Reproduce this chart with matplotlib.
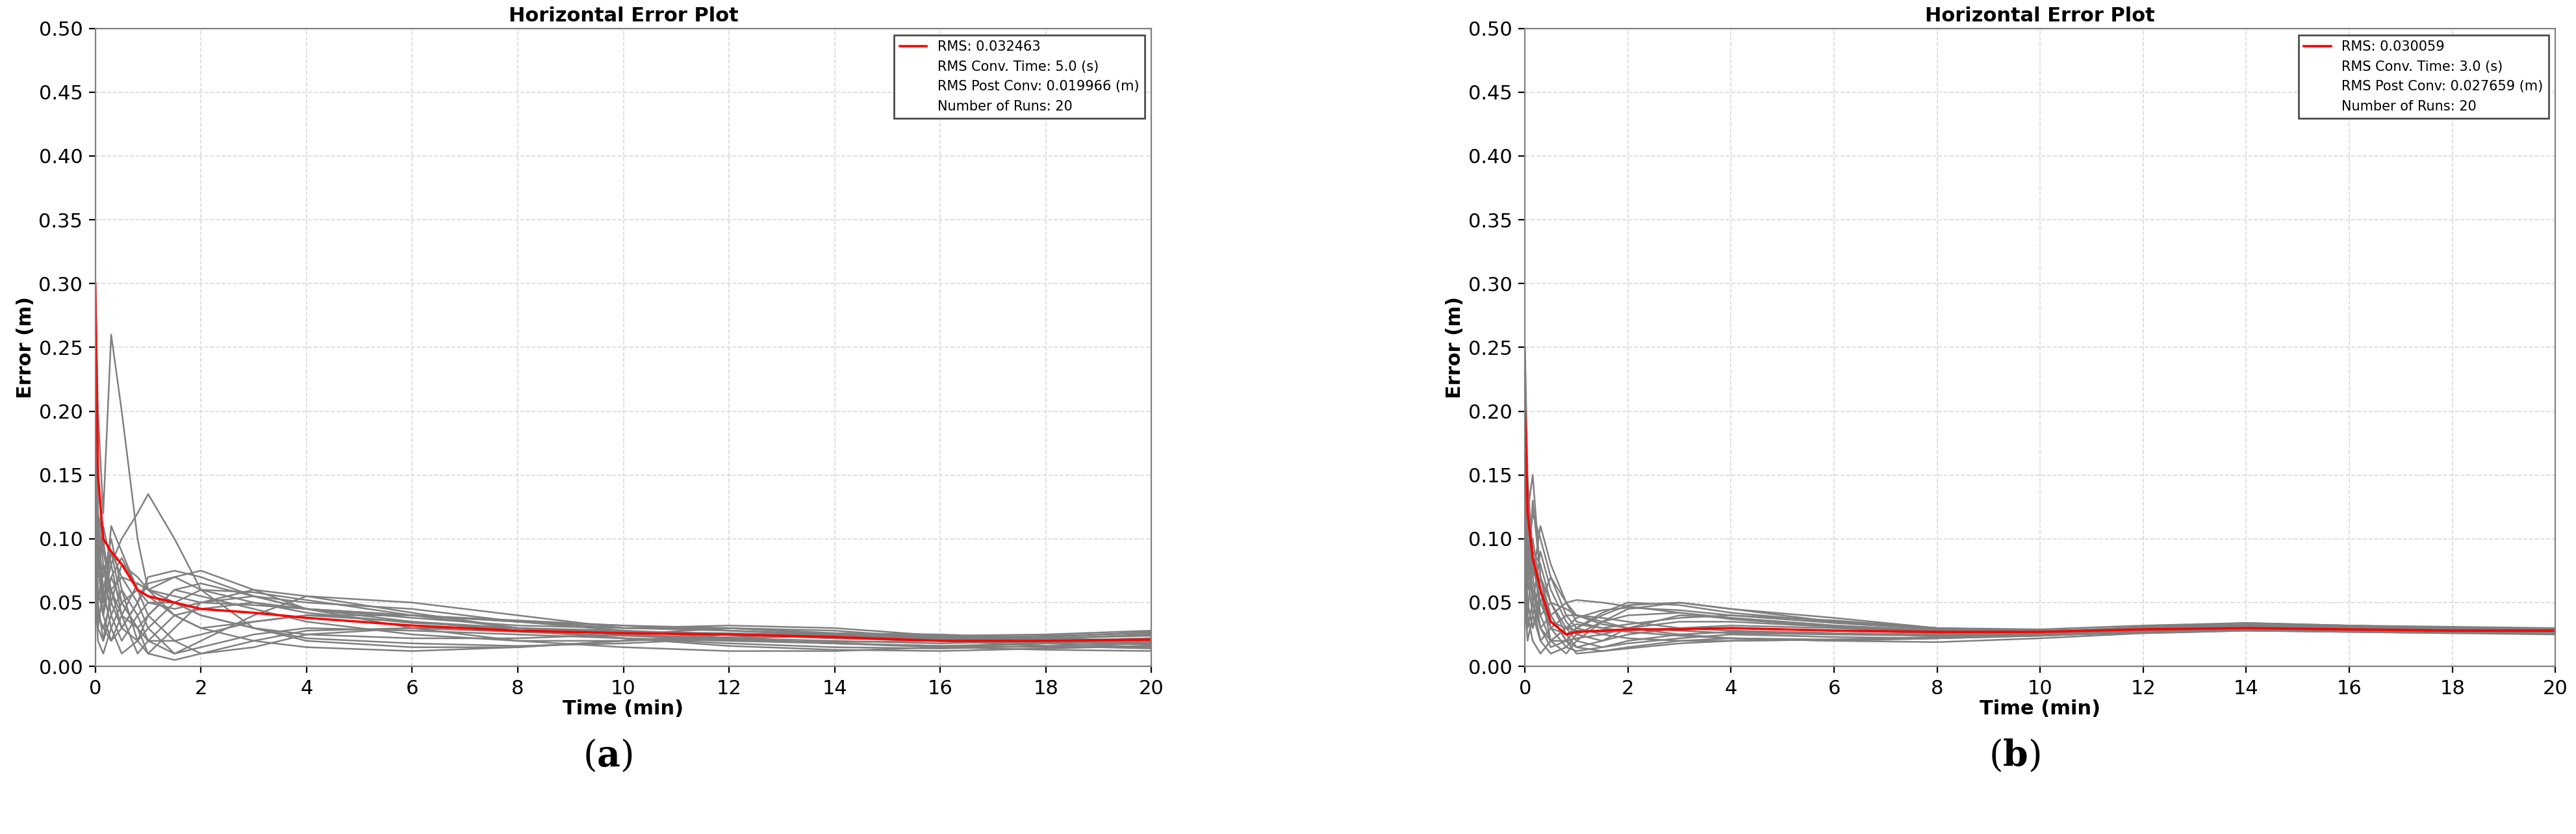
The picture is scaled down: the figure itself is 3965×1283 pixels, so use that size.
import matplotlib.pyplot as plt

plt.rcParams["mathtext.fontset"] = "dejavuserif"

# ── Data ─────────────────────────────────────────────────────────────────────
t_min = [0, 0.05, 0.15, 0.3, 0.5, 0.8, 1, 1.5, 2, 3, 4, 6, 8, 10, 12, 14, 16, 18, 20]

runs_a = [
    [0.30, 0.20, 0.12, 0.26, 0.20, 0.10, 0.06, 0.04, 0.030, 0.035, 0.040, 0.035, 0.030, 0.025, 0.022, 0.020, 0.018, 0.020, 0.022],
    [0.15, 0.10, 0.05, 0.08, 0.10, 0.12, 0.135, 0.10, 0.060, 0.030, 0.020, 0.015, 0.015, 0.020, 0.025, 0.022, 0.020, 0.018, 0.015],
    [0.22, 0.08, 0.04, 0.11, 0.09, 0.06, 0.05, 0.045, 0.050, 0.055, 0.050, 0.045, 0.035, 0.030, 0.028, 0.025, 0.022, 0.024, 0.026],
    [0.12, 0.05, 0.02, 0.06, 0.07, 0.05, 0.03, 0.01, 0.020, 0.040, 0.055, 0.050, 0.040, 0.030, 0.030, 0.025, 0.020, 0.022, 0.025],
    [0.18, 0.09, 0.07, 0.10, 0.06, 0.02, 0.01, 0.03, 0.050, 0.060, 0.055, 0.042, 0.030, 0.025, 0.020, 0.018, 0.016, 0.018, 0.020],
    [0.10, 0.04, 0.03, 0.05, 0.08, 0.07, 0.06, 0.07, 0.075, 0.060, 0.045, 0.035, 0.028, 0.022, 0.018, 0.015, 0.014, 0.016, 0.018],
    [0.08, 0.03, 0.06, 0.09, 0.05, 0.03, 0.04, 0.06, 0.065, 0.055, 0.045, 0.030, 0.020, 0.015, 0.012, 0.012, 0.015, 0.018, 0.020],
    [0.25, 0.12, 0.08, 0.04, 0.02, 0.04, 0.05, 0.05, 0.040, 0.030, 0.025, 0.022, 0.022, 0.025, 0.030, 0.028, 0.022, 0.020, 0.022],
    [0.14, 0.07, 0.11, 0.08, 0.04, 0.01, 0.02, 0.04, 0.045, 0.050, 0.045, 0.040, 0.035, 0.032, 0.030, 0.026, 0.020, 0.016, 0.014],
    [0.06, 0.02, 0.01, 0.03, 0.05, 0.06, 0.055, 0.04, 0.030, 0.020, 0.015, 0.012, 0.015, 0.020, 0.025, 0.025, 0.024, 0.025, 0.028],
    [0.20, 0.15, 0.09, 0.06, 0.04, 0.03, 0.02, 0.02, 0.025, 0.035, 0.040, 0.040, 0.035, 0.028, 0.022, 0.018, 0.015, 0.013, 0.012],
    [0.11, 0.06, 0.04, 0.02, 0.03, 0.05, 0.07, 0.075, 0.070, 0.055, 0.045, 0.038, 0.032, 0.030, 0.032, 0.030, 0.024, 0.020, 0.018],
    [0.16, 0.10, 0.05, 0.07, 0.085, 0.06, 0.04, 0.02, 0.010, 0.015, 0.025, 0.030, 0.030, 0.028, 0.025, 0.022, 0.020, 0.022, 0.024],
    [0.09, 0.05, 0.08, 0.06, 0.03, 0.02, 0.03, 0.05, 0.060, 0.058, 0.052, 0.040, 0.030, 0.022, 0.016, 0.013, 0.012, 0.014, 0.016],
    [0.13, 0.11, 0.06, 0.03, 0.01, 0.02, 0.04, 0.06, 0.055, 0.045, 0.035, 0.025, 0.020, 0.020, 0.023, 0.026, 0.025, 0.022, 0.020],
    [0.05, 0.03, 0.02, 0.04, 0.06, 0.04, 0.02, 0.01, 0.015, 0.025, 0.030, 0.028, 0.025, 0.022, 0.020, 0.019, 0.020, 0.023, 0.027],
    [0.19, 0.08, 0.05, 0.09, 0.07, 0.065, 0.06, 0.055, 0.050, 0.048, 0.045, 0.040, 0.036, 0.032, 0.028, 0.024, 0.021, 0.019, 0.017],
    [0.07, 0.04, 0.03, 0.02, 0.04, 0.065, 0.06, 0.05, 0.040, 0.030, 0.022, 0.018, 0.016, 0.018, 0.022, 0.024, 0.023, 0.021, 0.019],
    [0.17, 0.12, 0.10, 0.05, 0.03, 0.05, 0.065, 0.07, 0.060, 0.050, 0.042, 0.034, 0.030, 0.027, 0.026, 0.024, 0.022, 0.020, 0.021],
    [0.10, 0.06, 0.04, 0.07, 0.05, 0.03, 0.01, 0.005, 0.010, 0.020, 0.028, 0.030, 0.027, 0.024, 0.021, 0.018, 0.016, 0.015, 0.016],
]
rms_a = [0.30, 0.15, 0.10, 0.090, 0.080, 0.060, 0.055, 0.050, 0.045, 0.042, 0.038, 0.032, 0.028, 0.026, 0.025, 0.023, 0.020, 0.020, 0.021]

runs_b = [
    [0.25, 0.15, 0.08, 0.05, 0.03, 0.025, 0.030, 0.040, 0.048, 0.050, 0.045, 0.035, 0.030, 0.028, 0.030, 0.032, 0.030, 0.029, 0.028],
    [0.18, 0.12, 0.15, 0.07, 0.04, 0.02, 0.015, 0.020, 0.030, 0.040, 0.038, 0.032, 0.028, 0.026, 0.028, 0.030, 0.029, 0.028, 0.027],
    [0.12, 0.06, 0.10, 0.06, 0.02, 0.01, 0.020, 0.035, 0.045, 0.050, 0.045, 0.038, 0.030, 0.027, 0.030, 0.033, 0.031, 0.029, 0.030],
    [0.20, 0.10, 0.05, 0.02, 0.03, 0.04, 0.040, 0.035, 0.030, 0.025, 0.022, 0.020, 0.022, 0.025, 0.028, 0.030, 0.029, 0.028, 0.027],
    [0.08, 0.04, 0.09, 0.08, 0.05, 0.03, 0.020, 0.015, 0.018, 0.022, 0.025, 0.023, 0.022, 0.024, 0.027, 0.028, 0.028, 0.027, 0.026],
    [0.15, 0.09, 0.06, 0.04, 0.05, 0.045, 0.040, 0.038, 0.035, 0.030, 0.028, 0.026, 0.025, 0.027, 0.031, 0.034, 0.032, 0.030, 0.029],
    [0.10, 0.05, 0.03, 0.06, 0.04, 0.02, 0.010, 0.012, 0.015, 0.020, 0.022, 0.020, 0.019, 0.022, 0.026, 0.028, 0.027, 0.026, 0.027],
    [0.22, 0.13, 0.07, 0.03, 0.015, 0.02, 0.030, 0.042, 0.050, 0.048, 0.042, 0.035, 0.030, 0.029, 0.032, 0.034, 0.032, 0.031, 0.030],
    [0.06, 0.03, 0.05, 0.09, 0.06, 0.035, 0.025, 0.020, 0.025, 0.030, 0.030, 0.028, 0.026, 0.026, 0.029, 0.031, 0.030, 0.028, 0.027],
    [0.14, 0.08, 0.12, 0.10, 0.07, 0.04, 0.030, 0.025, 0.022, 0.020, 0.020, 0.021, 0.023, 0.026, 0.030, 0.031, 0.029, 0.027, 0.026],
    [0.09, 0.07, 0.04, 0.02, 0.01, 0.015, 0.025, 0.035, 0.040, 0.042, 0.038, 0.032, 0.028, 0.027, 0.029, 0.031, 0.030, 0.029, 0.028],
    [0.17, 0.11, 0.08, 0.05, 0.035, 0.03, 0.028, 0.027, 0.028, 0.030, 0.032, 0.030, 0.027, 0.025, 0.027, 0.029, 0.028, 0.027, 0.028],
    [0.11, 0.06, 0.13, 0.07, 0.03, 0.015, 0.012, 0.015, 0.020, 0.025, 0.027, 0.026, 0.024, 0.025, 0.028, 0.030, 0.029, 0.027, 0.026],
    [0.07, 0.05, 0.03, 0.05, 0.07, 0.05, 0.040, 0.033, 0.030, 0.028, 0.026, 0.025, 0.024, 0.026, 0.029, 0.032, 0.031, 0.030, 0.029],
    [0.19, 0.14, 0.09, 0.04, 0.02, 0.02, 0.022, 0.025, 0.030, 0.035, 0.035, 0.031, 0.027, 0.025, 0.026, 0.028, 0.027, 0.026, 0.025],
    [0.13, 0.09, 0.05, 0.03, 0.04, 0.05, 0.052, 0.050, 0.047, 0.042, 0.037, 0.031, 0.027, 0.026, 0.029, 0.032, 0.031, 0.030, 0.029],
    [0.05, 0.02, 0.04, 0.07, 0.05, 0.025, 0.015, 0.012, 0.014, 0.018, 0.020, 0.021, 0.022, 0.025, 0.028, 0.030, 0.029, 0.028, 0.027],
    [0.16, 0.10, 0.07, 0.11, 0.08, 0.05, 0.035, 0.030, 0.033, 0.038, 0.040, 0.036, 0.030, 0.027, 0.029, 0.031, 0.030, 0.028, 0.028],
    [0.12, 0.08, 0.06, 0.03, 0.02, 0.03, 0.038, 0.044, 0.046, 0.044, 0.040, 0.034, 0.029, 0.027, 0.030, 0.033, 0.032, 0.030, 0.029],
    [0.08, 0.04, 0.02, 0.01, 0.02, 0.03, 0.033, 0.030, 0.027, 0.024, 0.022, 0.021, 0.022, 0.024, 0.027, 0.029, 0.028, 0.027, 0.027],
]
rms_b = [0.20, 0.12, 0.085, 0.06, 0.035, 0.025, 0.027, 0.028, 0.029, 0.029, 0.030, 0.028, 0.027, 0.027, 0.029, 0.030, 0.029, 0.028, 0.028]

legend_a = ["RMS: 0.032463", "RMS Conv. Time: 5.0 (s)", "RMS Post Conv: 0.019966 (m)", "Number of Runs: 20"]
legend_b = ["RMS: 0.030059", "RMS Conv. Time: 3.0 (s)", "RMS Post Conv: 0.027659 (m)", "Number of Runs: 20"]
panel_labels = ["a", "b"]

# ── Figure ───────────────────────────────────────────────────────────────────
fig = plt.figure(figsize=(19.825, 6.415), dpi=200)
ax_a = fig.add_axes([0.037, 0.201, 0.410, 0.765])
ax_b = fig.add_axes([0.592, 0.201, 0.400, 0.765])

panels = [(ax_a, runs_a, rms_a, legend_a), (ax_b, runs_b, rms_b, legend_b)]
for ax, runs, rms, leg in panels:
    for run in runs:
        ax.plot(t_min, run, color="gray", linewidth=0.9)
    h, = ax.plot(t_min, rms, color="red", linewidth=1.3)
    blanks = [plt.Line2D([], [], color="none") for _ in leg[1:]]
    ax.legend([h] + blanks, leg, loc="upper right", fontsize=7.5,
              framealpha=1, edgecolor="0.3", fancybox=False)
    ax.set_xlim(0, 20)
    ax.set_ylim(0, 0.5)
    ax.set_xticks(range(0, 21, 2))
    ax.set_yticks([i * 0.05 for i in range(11)])
    ax.yaxis.set_major_formatter(plt.FormatStrFormatter("%.2f"))
    ax.grid(True, color="0.85", linestyle="--", linewidth=0.6)
    ax.tick_params(labelsize=11)
    ax.set_title("Horizontal Error Plot", fontsize=11, fontweight="bold", pad=4)
    ax.set_xlabel("Time (min)", fontsize=11, fontweight="bold", labelpad=1)
    ax.set_ylabel("Error (m)", fontsize=11, fontweight="bold", labelpad=2)
    for s in ax.spines.values():
        s.set_color("0.5")

for x, lab in zip([0.236, 0.782], panel_labels):
    fig.text(x, 0.093, rf"$(\mathbf{{{lab}}})$", fontsize=20,
             ha="center", va="center")

fig.savefig("out.png", dpi=200, facecolor="white")
